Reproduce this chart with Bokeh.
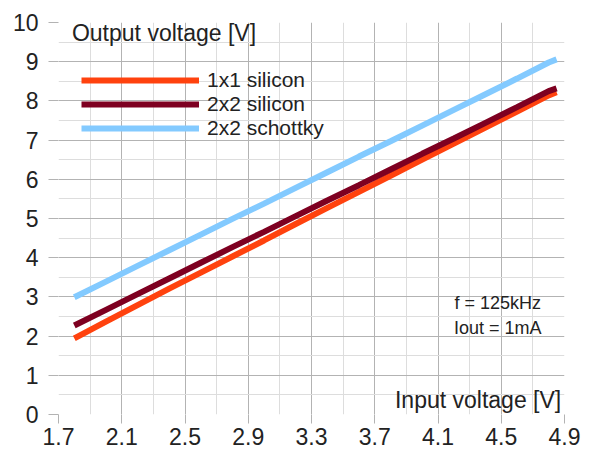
from bokeh.plotting import figure
from bokeh.models import Range1d, FixedTicker, Legend, LegendItem, Label
from bokeh.embed import file_html
from bokeh.resources import INLINE

# ---- data ----
vin = [1.8, 2.0, 2.2, 2.4, 2.6, 2.8, 3.0, 3.2, 3.4, 3.6, 3.8, 4.0, 4.2, 4.4, 4.6, 4.8, 4.85]
vout_1x1_si = [1.94, 2.37, 2.79, 3.21, 3.62, 4.03, 4.44, 4.86, 5.27, 5.68, 6.09, 6.50, 6.91, 7.32, 7.73, 8.14, 8.22]
vout_2x2_si = [2.27, 2.67, 3.07, 3.47, 3.87, 4.27, 4.66, 5.06, 5.46, 5.85, 6.25, 6.65, 7.04, 7.44, 7.84, 8.25, 8.32]
vout_2x2_sch = [2.99, 3.39, 3.79, 4.19, 4.59, 4.99, 5.38, 5.78, 6.18, 6.58, 6.97, 7.37, 7.77, 8.17, 8.57, 8.98, 9.06]

series_names = ["1x1 silicon", "2x2 silicon", "2x2 schottky"]
series_colors = ["#ff420e", "#7e0021", "#83caff"]

x_ticks = [1.7, 2.1, 2.5, 2.9, 3.3, 3.7, 4.1, 4.5, 4.9]
x_tick_labels = ["1.7", "2.1", "2.5", "2.9", "3.3", "3.7", "4.1", "4.5", "4.9"]
x_minor = [1.9, 2.3, 2.7, 3.1, 3.5, 3.9, 4.3, 4.7]
y_ticks = [0, 1, 2, 3, 4, 5, 6, 7, 8, 9, 10]
y_minor = [0.5, 1.5, 2.5, 3.5, 4.5, 5.5, 6.5, 7.5, 8.5, 9.5]

FONT = "Liberation Sans"
TXT = "#222222"

p = figure(width=583, height=454, output_backend="svg", toolbar_location=None,
           x_range=Range1d(1.7, 4.9), y_range=Range1d(0, 10),
           min_border_left=58, min_border_right=19, min_border_top=22, min_border_bottom=40)
p.outline_line_color = None
p.background_fill_color = "white"

for ax, ticks, minor, labels in ((p.xaxis[0], x_ticks, x_minor, x_tick_labels),
                                 (p.yaxis[0], y_ticks, y_minor, [str(t) for t in y_ticks])):
    ax.ticker = FixedTicker(ticks=ticks, minor_ticks=minor)
    ax.major_label_overrides = {t: l for t, l in zip(ticks, labels)}
    ax.axis_line_color = None
    ax.major_tick_line_color = "#b3b3b3"
    ax.major_tick_out = 10
    ax.major_tick_in = 0
    ax.minor_tick_line_color = None
    ax.major_label_text_font = FONT
    ax.major_label_text_font_size = "23px"
    ax.major_label_text_color = TXT

p.xaxis.major_tick_out = 9
p.xaxis.major_label_standoff = 4
p.yaxis.major_label_standoff = 10

for g in (p.xgrid[0], p.ygrid[0]):
    g.grid_line_color = "#b3b3b3"
    g.minor_grid_line_color = "#dddddd"

renderers = []
for ys, c in zip((vout_1x1_si, vout_2x2_si, vout_2x2_sch), series_colors):
    r = p.line(vin, ys, line_color=c, line_width=6)
    renderers.append(r)

legend = Legend(items=[LegendItem(label=n, renderers=[r]) for n, r in zip(series_names, renderers)],
                location=(23, 274), orientation="vertical",
                glyph_width=118, glyph_height=20, label_height=20, spacing=0,
                label_standoff=8, padding=0, margin=0,
                background_fill_alpha=0, border_line_color=None,
                label_text_font=FONT, label_text_font_size="21px", label_text_color=TXT)
p.add_layout(legend, "center")

p.add_layout(Label(x=1.785, y=9.72, text="Output voltage [V]", text_font=FONT,
                   text_font_size="23px", text_color=TXT, text_baseline="middle"))
p.add_layout(Label(x=4.879, y=0.36, text="Input voltage [V]", text_font=FONT,
                   text_font_size="23px", text_color=TXT, text_align="right",
                   text_baseline="middle"))
p.add_layout(Label(x=4.478, y=2.84, text="f = 125kHz", text_font=FONT,
                   text_font_size="18px", text_color=TXT, text_align="center",
                   text_baseline="middle"))
p.add_layout(Label(x=4.478, y=2.21, text="Iout = 1mA", text_font=FONT,
                   text_font_size="18px", text_color=TXT, text_align="center",
                   text_baseline="middle"))

open("out.html", "w").write(file_html(p, INLINE))
